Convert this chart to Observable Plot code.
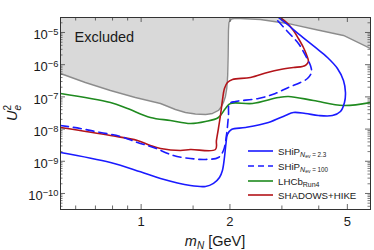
<!DOCTYPE html>
<html><head><meta charset="utf-8">
<script src="https://cdn.jsdelivr.net/npm/d3@7"></script>
<script src="https://cdn.jsdelivr.net/npm/@observablehq/plot@0.6"></script>
<style>body{margin:0;background:#fff}#chart{width:374px;height:250px}</style>
</head><body><div id="chart"></div>
<script>
// ---- data (m_N in GeV, U_e^2) ----
const excludedM = [0.533, 0.647, 0.787, 0.956, 1.163, 1.307, 1.413, 1.528, 1.652, 1.745, 1.828, 1.872, 1.901, 1.931, 1.951, 1.965, 1.972, 1.977, 1.984, 2.024, 2.088, 2.537, 3.133, 3.897, 4.851, 5.99];
const excludedU = [5.33e-7, 2.80e-7, 1.58e-7, 9.58e-8, 6.24e-8, 4.06e-8, 3.28e-8, 2.94e-8, 2.84e-8, 3.05e-8, 3.78e-8, 5.03e-8, 6.70e-8, 1.03e-7, 1.82e-7, 4.63e-7, 1.93e-6, 1.15e-5, 2.05e-5, 2.63e-5, 2.76e-5, 2.53e-5, 1.91e-5, 1.24e-5, 8.07e-6, 3.18e-6];

const shipM = [0.533, 0.787, 0.995, 1.163, 1.469, 1.652, 1.759, 1.843, 1.886, 1.916, 1.939, 1.961, 2.024, 2.257, 2.701, 3.084, 3.283, 3.605, 3.990, 4.451, 4.738, 4.889, 4.927, 4.851, 4.628, 4.281, 3.897, 3.467, 3.133, 2.920, 2.787];
const shipU = [1.88e-9, 9.18e-10, 4.7e-10, 2.92e-10, 1.77e-10, 1.65e-10, 2.05e-10, 3.14e-10, 5.18e-10, 1.31e-9, 3.57e-9, 6.79e-9, 9.72e-9, 1.12e-8, 1.60e-8, 2.64e-8, 3.28e-8, 3.05e-8, 2.64e-8, 2.64e-8, 3.52e-8, 6.70e-8, 1.37e-7, 3.23e-7, 7.62e-7, 1.67e-6, 3.42e-6, 8.07e-6, 1.77e-5, 2.92e-5, 4.18e-5];

const ship100M = [0.533, 0.622, 0.728, 0.851, 0.972, 1.101, 1.287, 1.469, 1.652, 1.828, 1.901, 1.946, 1.977, 1.993, 2.088, 2.498, 2.853, 3.157, 3.467, 3.662, 3.778, 3.749, 3.605, 3.413, 3.157, 2.897, 2.744];
const ship100U = [1.29e-8, 1.04e-8, 7.84e-9, 5.89e-9, 3.84e-9, 2.69e-9, 1.51e-9, 1.22e-9, 1.14e-9, 1.31e-9, 2.16e-9, 6.33e-9, 2.64e-8, 6.24e-8, 7.19e-8, 8.92e-8, 1.28e-7, 1.96e-7, 2.80e-7, 3.72e-7, 5.73e-7, 9.44e-7, 1.93e-6, 4.55e-6, 1.0e-5, 2.36e-5, 3.89e-5];

const lhcbM = [0.533, 0.787, 0.899, 1.075, 1.257, 1.469, 1.652, 1.828, 1.931, 2.008, 2.384, 2.920, 3.157, 3.838, 4.851, 5.99];
const lhcbU = [1.28e-7, 6.70e-8, 4.36e-8, 2.29e-8, 1.85e-8, 1.49e-8, 1.72e-8, 2.29e-8, 4.36e-8, 6.24e-8, 6.24e-8, 9.58e-8, 1.03e-7, 7.73e-8, 5.41e-8, 6.70e-8];

const shadowsM = [0.533, 0.787, 0.972, 1.075, 1.163, 1.359, 1.469, 1.786, 1.800, 1.828, 1.857, 1.886, 1.916, 1.961, 2.040, 2.347, 2.680, 2.966, 3.283, 3.522, 3.633, 3.690, 3.633, 3.549, 3.413, 3.283, 3.133, 2.966, 2.85];
const shadowsU = [1.12e-8, 6.33e-9, 4.43e-9, 3.10e-9, 2.50e-9, 2.16e-9, 2.32e-9, 2.32e-9, 4.43e-9, 1.04e-8, 2.64e-8, 7.73e-8, 1.82e-7, 2.80e-7, 3.47e-7, 4.00e-7, 5.73e-7, 7.10e-7, 8.18e-7, 8.79e-7, 1.01e-6, 1.26e-6, 2.07e-6, 3.42e-6, 6.51e-6, 1.15e-5, 1.91e-5, 2.92e-5, 4.18e-5];

const xTickValues = [1, 2, 5];
const xTickLabels = ["1", "2", "5"];
const xMinorTicks = [0.6, 0.7, 0.8, 0.9, 1.5, 3, 4];
const yTickValues = [1e-10, 1e-9, 1e-8, 1e-7, 1e-6, 1e-5];
const yTickLabels = ["10^\u221210", "10^\u22129", "10^\u22128", "10^\u22127", "10^\u22126", "10^\u22125"];
const yMinorTicks = [];
for (let k = -11; k <= -5; k++) for (let m = 2; m <= 9; m++) { const v = m * Math.pow(10, k); if (v > 3.18e-11 && v < 2.92e-5) yMinorTicks.push(v); }

const seriesNames = ["SHiP", "SHiP", "LHCb", "SHADOWS+HIKE"];
const seriesSubs = ["2.3", "100", "Run4", ""];
const seriesColors = ["#1a1aff", "#1a1aff", "#1f8a1f", "#b3141a"];

// ---- layout ----
const W = 374, H = 250, mL = 60, mR = 4, mT = 17, mB = 41;
const pw = W - mL - mR, ph = H - mT - mB;
const rows = (ms, us) => ms.map((m, i) => ({m, U: us[i]}));
const FONT = "'Liberation Sans', Arial, Helvetica, sans-serif";

const svg = Plot.plot({
  width: W, height: H, marginLeft: mL, marginRight: mR, marginTop: mT, marginBottom: mB,
  x: {type: "log", domain: [0.533, 5.99]},
  y: {type: "log", domain: [3.18e-11, 2.92e-5]},
  style: {fontFamily: FONT, fontSize: "13px", background: "#fff", color: "#1a1a1a"},
  marks: [
    Plot.areaY(rows(excludedM, excludedU), {x: "m", y1: "U", y2: 1e-3, fill: "#d9d9d9", clip: true}),
    Plot.line(rows(excludedM, excludedU), {x: "m", y: "U", stroke: "#8c8c8c", strokeWidth: 1.4, clip: true}),
    Plot.line(rows(lhcbM, lhcbU), {x: "m", y: "U", stroke: seriesColors[2], strokeWidth: 1.6, curve: "catmull-rom", clip: true}),
    Plot.line(rows(shadowsM, shadowsU), {x: "m", y: "U", stroke: seriesColors[3], strokeWidth: 1.6, curve: "catmull-rom", clip: true}),
    Plot.line(rows(ship100M, ship100U), {x: "m", y: "U", stroke: seriesColors[1], strokeWidth: 1.6, strokeDasharray: "8,5", curve: "catmull-rom", clip: true}),
    Plot.line(rows(shipM, shipU), {x: "m", y: "U", stroke: seriesColors[0], strokeWidth: 1.6, curve: "catmull-rom", clip: true}),
    Plot.text(["Excluded"], {frameAnchor: "top-left", dx: 14, dy: 14, textAnchor: "start", lineAnchor: "top", fontSize: 14.5, fill: "#1a1a1a"}),
    // inward ticks on all four sides
    Plot.tickX(xTickValues, {x: d => d, insetTop: ph - 5, stroke: "#444", strokeWidth: 0.8}),
    Plot.tickX(xTickValues, {x: d => d, insetBottom: ph - 5, stroke: "#444", strokeWidth: 0.8}),
    Plot.tickX(xMinorTicks, {x: d => d, insetTop: ph - 3.5, stroke: "#444", strokeWidth: 0.8}),
    Plot.tickX(xMinorTicks, {x: d => d, insetBottom: ph - 3.5, stroke: "#444", strokeWidth: 0.8}),
    Plot.tickY(yTickValues, {y: d => d, insetRight: pw - 5, stroke: "#444", strokeWidth: 0.8}),
    Plot.tickY(yTickValues, {y: d => d, insetLeft: pw - 5, stroke: "#444", strokeWidth: 0.8}),
    Plot.tickY(yMinorTicks, {y: d => d, insetRight: pw - 2.5, stroke: "#444", strokeWidth: 0.7}),
    Plot.tickY(yMinorTicks, {y: d => d, insetLeft: pw - 2.5, stroke: "#444", strokeWidth: 0.7}),
    Plot.frame({stroke: "#333", strokeWidth: 1}),
    Plot.axisX({ticks: xTickValues, tickSize: 0, tickPadding: 7, tickFormat: d => xTickLabels[xTickValues.indexOf(d)], label: null}),
    Plot.axisY({ticks: yTickValues, tickSize: 0, tickPadding: 2, tickFormat: d => yTickLabels[yTickValues.indexOf(d)], label: null})
  ]
});

const s = d3.select(svg);
// superscript tick labels
s.selectAll('g[aria-label="y-axis tick label"] text').each(function () {
  const t = d3.select(this);
  const [b, e] = t.text().split("^");
  t.text("");
  t.append("tspan").text(b);
  t.append("tspan").attr("dy", "-0.45em").attr("font-size", "0.72em").text(e);
  t.attr("transform", (t.attr("transform") || "") + " translate(0,2.5)");
});

// axis titles
const xt = s.append("text").attr("x", mL + pw / 2).attr("y", 246).attr("text-anchor", "middle")
  .attr("font-family", FONT).attr("font-size", 14.5).attr("fill", "#1a1a1a");
xt.append("tspan").attr("font-style", "italic").text("m");
xt.append("tspan").attr("font-style", "italic").attr("font-size", 10).attr("dy", 3).text("N");
xt.append("tspan").attr("dy", -3).text(" [GeV]");

const yt = s.append("text").attr("transform", "translate(17,113) rotate(-90)").attr("text-anchor", "middle")
  .attr("font-family", FONT).attr("font-size", 14.5).attr("fill", "#1a1a1a");
yt.append("tspan").attr("font-style", "italic").text("U");
yt.append("tspan").attr("font-style", "italic").attr("font-size", 10).attr("dy", 3.5).text("e");
yt.append("tspan").attr("font-size", 10).attr("dx", -5.6).attr("dy", -10).text("2");

// legend
const lg = s.append("g").attr("font-family", FONT).attr("fill", "#1a1a1a").attr("text-anchor", "start");
const rowY = [151, 166, 181, 195];
seriesNames.forEach((name, i) => {
  const y = rowY[i];
  lg.append("line").attr("x1", 248).attr("x2", 273).attr("y1", y).attr("y2", y)
    .attr("stroke", seriesColors[i]).attr("stroke-width", 1.6)
    .attr("stroke-dasharray", i === 1 ? "6,4" : null);
  const t = lg.append("text").attr("x", 278).attr("y", y + 3.5).attr("font-size", 9.7).attr("text-anchor", "start");
  t.append("tspan").text(name);
  if (i < 2) {
    t.append("tspan").attr("font-size", 7).attr("font-style", "italic").attr("dy", 2.5).text("N");
    t.append("tspan").attr("font-size", 5).attr("dy", 1.2).text("ev");
    t.append("tspan").attr("font-size", 6.3).attr("dy", -1.2).text(" = " + seriesSubs[i]);
  } else if (seriesSubs[i]) {
    t.append("tspan").attr("font-size", 7).attr("dy", 2.5).text(seriesSubs[i]);
  }
});

document.getElementById("chart").appendChild(svg);
</script>
</body></html>
